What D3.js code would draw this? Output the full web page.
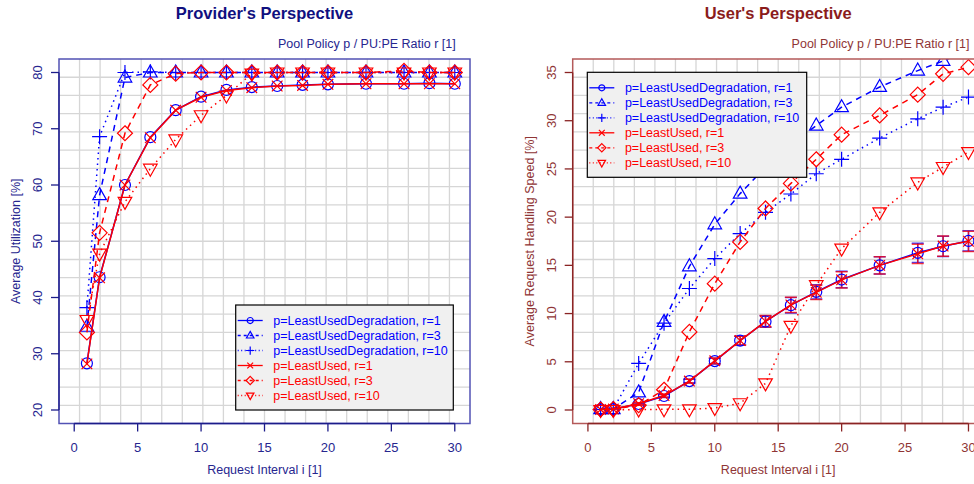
<!DOCTYPE html>
<html>
<head>
<meta charset="utf-8">
<script src="https://cdn.jsdelivr.net/npm/d3@7"></script>
<style>
  body { margin: 0; background: #fff; }
  svg { display: block; font-family: "Liberation Sans", Arial, sans-serif; }
</style>
</head>
<body>
<svg id="chart" width="974" height="484"></svg>
<script>
// request intervals (x values, shared by all series)
const intervals = [1, 2, 4, 6, 8, 10, 12, 14, 16, 18, 20, 23, 26, 28, 30];

// provider's perspective: average utilization [%]
const utilLUD1 = [28.3, 43.6, 60.0, 68.5, 73.3, 75.7, 76.9, 77.4, 77.6, 77.8, 77.9, 78.0, 78.0, 78.1, 78.0];
const utilLUD3 = [34.8, 58.2, 79.1, 80.0, 80.0, 80.0, 80.0, 80.0, 80.0, 80.0, 80.0, 80.0, 80.0, 80.0, 80.0];
const utilLUD10 = [38.2, 68.6, 80.0, 80.1, 80.0, 80.0, 80.0, 80.0, 80.0, 80.0, 80.0, 80.0, 80.0, 80.0, 80.0];
const utilLU1 = [28.2, 43.5, 60.0, 68.4, 73.3, 75.6, 76.8, 77.3, 77.6, 77.7, 77.9, 78.0, 78.0, 78.0, 78.0];
const utilLU3 = [33.8, 51.5, 69.2, 77.8, 79.8, 80.0, 80.0, 80.0, 80.0, 80.0, 80.0, 80.0, 80.3, 80.0, 80.0];
const utilLU10 = [36.0, 47.8, 57.0, 62.9, 68.1, 72.4, 75.9, 79.8, 80.0, 80.0, 80.0, 80.0, 80.0, 80.0, 80.0];

// user's perspective: average request handling speed [%]
const speedLUD1 = [0.07, 0.1, 0.62, 1.45, 3.0, 5.07, 7.2, 9.18, 10.87, 12.25, 13.53, 15.0, 16.3, 16.98, 17.53];
const speedLUD3 = [0.1, 0.1, 1.83, 9.14, 14.9, 19.26, 22.44, 25.2, 27.5, 29.5, 31.4, 33.5, 35.2, 36.2, 37.3];
const speedLUD10 = [0.05, 0.1, 4.83, 9.0, 12.6, 15.7, 18.3, 20.5, 22.4, 24.5, 26.0, 28.2, 30.2, 31.4, 32.45];
const speedLU1 = [0.05, 0.1, 0.65, 1.5, 3.0, 5.1, 7.2, 9.2, 10.9, 12.2, 13.5, 15.0, 16.2, 17.0, 17.5];
const speedLU3 = [0.05, 0.1, 0.5, 2.1, 8.1, 13.1, 17.43, 20.9, 23.5, 26.0, 28.55, 30.55, 32.7, 34.86, 35.55];
const speedLU10 = [0.0, 0.0, 0.05, 0.07, 0.07, 0.2, 0.7, 2.76, 8.73, 12.94, 16.74, 20.5, 23.6, 25.2, 26.75];
// confidence half-widths for the r=1 speed curves
const speedErr1 = [0.05, 0.05, 0.1, 0.15, 0.2, 0.3, 0.45, 0.6, 0.8, 0.75, 0.85, 0.9, 1.0, 1.05, 1.05];

const legendLabels = [
    'p=LeastUsedDegradation, r=1',
    'p=LeastUsedDegradation, r=3',
    'p=LeastUsedDegradation, r=10',
    'p=LeastUsed, r=1',
    'p=LeastUsed, r=3',
    'p=LeastUsed, r=10',
];
const xTicks = [0, 5, 10, 15, 20, 25, 30];
const utilTicks = [20, 30, 40, 50, 60, 70, 80];
const speedTicks = [0, 5, 10, 15, 20, 25, 30, 35];

const BLUE = '#0000ff';
const RED = '#ff0000';
const styles = [
    { color: BLUE, dash: null, mark: 'circle' },
    { color: BLUE, dash: '6,5', mark: 'triUp' },
    { color: BLUE, dash: '1.5,4', mark: 'plus' },
    { color: RED, dash: null, mark: 'cross' },
    { color: RED, dash: '6,5', mark: 'diamond' },
    { color: RED, dash: '1.5,4', mark: 'triDown' },
];

const svg = d3.select('#chart');

function markPath(type, s) {
    switch (type) {
        case 'circle': {
            const r = 5.5 * s;
            return `M${-r},0A${r},${r} 0 1,0 ${r},0A${r},${r} 0 1,0 ${-r},0Z`;
        }
        case 'triUp':
            return `M0,${-7.5 * s}L${6.8 * s},${4.5 * s}L${-6.8 * s},${4.5 * s}Z`;
        case 'triDown':
            return `M0,${7.5 * s}L${6.8 * s},${-4.5 * s}L${-6.8 * s},${-4.5 * s}Z`;
        case 'plus':
            return `M${-7.5 * s},0H${7.5 * s}M0,${-7.5 * s}V${7.5 * s}`;
        case 'cross':
            return `M${-5.3 * s},${-5.3 * s}L${5.3 * s},${5.3 * s}M${-5.3 * s},${5.3 * s}L${5.3 * s},${-5.3 * s}`;
        case 'diamond':
            return `M0,${-7.5 * s}L${7.5 * s},0L0,${7.5 * s}L${-7.5 * s},0Z`;
    }
}

function drawPanel(cfg) {
    const box = cfg.box;
    const g = svg.append('g');

    const xExt = 30 * 0.04;
    const yExt = (cfg.yLim[1] - cfg.yLim[0]) * 0.04;
    const x = d3.scaleLinear().domain([-xExt, 30 + xExt]).range([box.left, box.right]);
    const y = d3.scaleLinear().domain([cfg.yLim[0] - yExt, cfg.yLim[1] + yExt]).range([box.bottom, box.top]);

    // grid: 20 x 20 cells across the plot box
    const grid = g.append('g').attr('stroke', '#d6d6d6').attr('stroke-width', 1.3);
    for (let i = 1; i < 20; i++) {
        const gx = box.left + (box.right - box.left) * i / 20;
        const gy = box.top + (box.bottom - box.top) * i / 20;
        grid.append('line').attr('x1', gx).attr('x2', gx).attr('y1', box.top).attr('y2', box.bottom);
        grid.append('line').attr('x1', box.left).attr('x2', box.right).attr('y1', gy).attr('y2', gy);
    }

    const clipId = 'clip-' + cfg.id;
    g.append('clipPath').attr('id', clipId)
        .append('rect')
        .attr('x', box.left).attr('y', box.top)
        .attr('width', box.right - box.left).attr('height', box.bottom - box.top);

    const plot = g.append('g').attr('clip-path', `url(#${clipId})`);

    // error bars
    if (cfg.err) {
        cfg.err.forEach((e) => {
            const st = styles[e.series];
            const eg = plot.append('g').attr('stroke', st.color).attr('stroke-width', 1.5).attr('stroke-opacity', 0.75);
            intervals.forEach((xi, i) => {
                const v = cfg.series[e.series][i];
                const y0 = y(v - e.values[i]);
                const y1 = y(v + e.values[i]);
                if (y0 - y1 < 1.5) return;
                const cx = x(xi);
                eg.append('line').attr('x1', cx).attr('x2', cx).attr('y1', y0).attr('y2', y1);
                eg.append('line').attr('x1', cx - 6).attr('x2', cx + 6).attr('y1', y0).attr('y2', y0);
                eg.append('line').attr('x1', cx - 6).attr('x2', cx + 6).attr('y1', y1).attr('y2', y1);
            });
        });
    }

    const line = d3.line().x((d) => x(d[0])).y((d) => y(d[1]));

    cfg.series.forEach((vals, si) => {
        const st = styles[si];
        const pts = intervals.map((xi, i) => [xi, vals[i]]);
        plot.append('path')
            .attr('d', line(pts))
            .attr('fill', 'none')
            .attr('stroke', st.color)
            .attr('stroke-width', 1.5)
            .attr('stroke-dasharray', st.dash);
        plot.append('g').selectAll('path')
            .data(pts)
            .join('path')
            .attr('transform', (d) => `translate(${x(d[0])},${y(d[1])})`)
            .attr('d', markPath(st.mark, 1))
            .attr('fill', 'none')
            .attr('stroke', st.color)
            .attr('stroke-width', 1.2);
    });

    // plot box
    g.append('rect')
        .attr('x', box.left).attr('y', box.top)
        .attr('width', box.right - box.left).attr('height', box.bottom - box.top)
        .attr('fill', 'none').attr('stroke', cfg.boxColor).attr('stroke-width', 1.5);

    // x axis
    const xa = g.append('g').attr('stroke', cfg.axisColor).attr('stroke-width', 1.3);
    xa.append('line').attr('x1', x(0)).attr('x2', x(30)).attr('y1', box.bottom).attr('y2', box.bottom);
    xTicks.forEach((t) => {
        xa.append('line').attr('x1', x(t)).attr('x2', x(t)).attr('y1', box.bottom).attr('y2', box.bottom + 8);
        g.append('text').attr('x', x(t)).attr('y', box.bottom + 28)
            .attr('text-anchor', 'middle').attr('font-size', 13).attr('fill', cfg.textColor).text(t);
    });

    // y axis
    const ya = g.append('g').attr('stroke', cfg.axisColor).attr('stroke-width', 1.3);
    ya.append('line').attr('x1', box.left).attr('x2', box.left)
        .attr('y1', y(cfg.yTicks[0])).attr('y2', y(cfg.yTicks[cfg.yTicks.length - 1]));
    cfg.yTicks.forEach((t) => {
        ya.append('line').attr('x1', box.left - 8).attr('x2', box.left).attr('y1', y(t)).attr('y2', y(t));
        g.append('text')
            .attr('transform', `translate(${box.left - 17},${y(t)}) rotate(-90)`)
            .attr('text-anchor', 'middle').attr('font-size', 13).attr('fill', cfg.textColor).text(t);
    });

    // titles
    const cx = (box.left + box.right) / 2;
    g.append('text').attr('x', cx).attr('y', 19)
        .attr('text-anchor', 'middle').attr('font-size', 16.5).attr('font-weight', 'bold')
        .attr('fill', cfg.titleColor).text(cfg.title);
    g.append('text').attr('x', x(30) + 1).attr('y', 47.5)
        .attr('text-anchor', 'end').attr('font-size', 12.5).attr('fill', cfg.textColor)
        .text('Pool Policy p / PU:PE Ratio r [1]');
    g.append('text').attr('x', cx).attr('y', box.bottom + 50)
        .attr('text-anchor', 'middle').attr('font-size', 12.5).attr('fill', cfg.textColor)
        .text('Request Interval i [1]');
    g.append('text')
        .attr('transform', `translate(${box.left - 39},${(box.top + box.bottom) / 2}) rotate(-90)`)
        .attr('text-anchor', 'middle').attr('font-size', 12.5).attr('fill', cfg.textColor)
        .text(cfg.yLabel);

    // legend
    const lg = g.append('g').attr('transform', `translate(${cfg.legend.x},${cfg.legend.y})`);
    lg.append('rect').attr('width', cfg.legend.w).attr('height', 105)
        .attr('fill', '#f0f0f0').attr('stroke', '#000').attr('stroke-width', 1.2);
    legendLabels.forEach((label, i) => {
        const st = styles[i];
        const ry = 15.5 + i * 15;
        lg.append('line').attr('x1', 2).attr('x2', 27).attr('y1', ry).attr('y2', ry)
            .attr('stroke', st.color).attr('stroke-width', 1.3).attr('stroke-dasharray', st.dash ? (st.dash === '6,5' ? '3,3' : '1,2.5') : null);
        lg.append('path').attr('transform', `translate(14.5,${ry})`)
            .attr('d', markPath(st.mark, 0.55))
            .attr('fill', 'none').attr('stroke', st.color).attr('stroke-width', 1.2);
        lg.append('text').attr('x', 37.6).attr('y', ry + 4.5)
            .attr('font-size', 12.5).attr('fill', st.color).text(label);
    });
}

drawPanel({
    id: 'provider',
    box: { left: 59, right: 470, top: 59, bottom: 423.5 },
    yLim: [20, 80],
    yTicks: utilTicks,
    series: [utilLUD1, utilLUD3, utilLUD10, utilLU1, utilLU3, utilLU10],
    title: "Provider's Perspective",
    yLabel: 'Average Utilization [%]',
    titleColor: '#10107f',
    textColor: '#26268f',
    axisColor: '#1c1c8a',
    boxColor: '#5252b4',
    legend: { x: 235.7, y: 305, w: 217.6 },
});

drawPanel({
    id: 'user',
    box: { left: 572.7, right: 983.7, top: 59, bottom: 423.5 },
    yLim: [0, 35],
    yTicks: speedTicks,
    series: [speedLUD1, speedLUD3, speedLUD10, speedLU1, speedLU3, speedLU10],
    err: [{ series: 0, values: speedErr1 }, { series: 3, values: speedErr1 }],
    title: "User's Perspective",
    yLabel: 'Average Request Handling Speed [%]',
    titleColor: '#8b1c1c',
    textColor: '#8f3535',
    axisColor: '#8a2424',
    boxColor: '#b45a5a',
    legend: { x: 587.3, y: 72.3, w: 219.4 },
});
</script>
</body>
</html>
